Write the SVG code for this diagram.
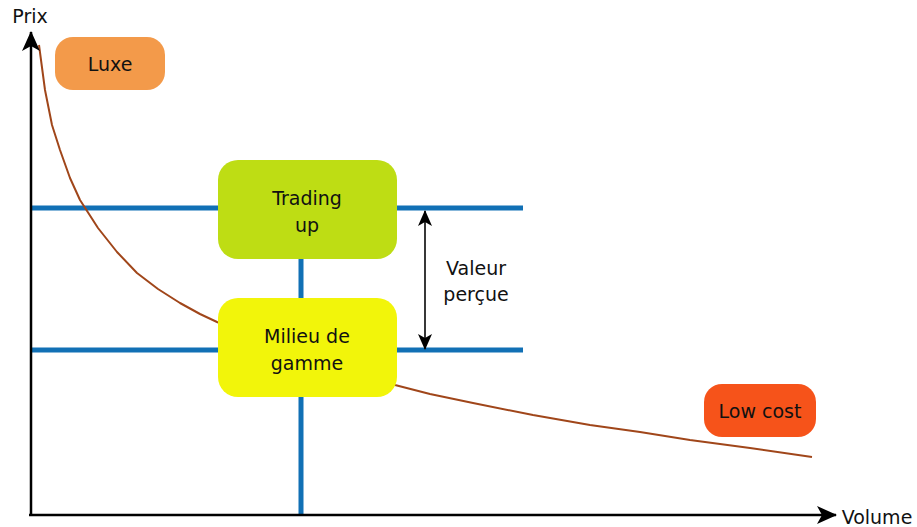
<svg xmlns="http://www.w3.org/2000/svg" width="917" height="527" viewBox="0 0 917 527">
  <style>
    .lbl { font-family: "DejaVu Sans", Verdana, sans-serif; font-size: 19px; fill: #111; text-anchor: middle; }
    .grid { stroke: #1170B5; stroke-width: 5; fill: none; }
    .axis { stroke: #000; stroke-width: 2.5; fill: none; }
    .curve { stroke: #A0461A; stroke-width: 2; fill: none; stroke-linejoin: round; }
  </style>
  <defs>
    <marker id="head" viewBox="0 0 20 18" refX="19" refY="9" markerWidth="20" markerHeight="18" markerUnits="userSpaceOnUse" orient="auto">
      <path d="M0,0 L20,9 L0,18 L5,9 Z" fill="#000"/>
    </marker>
    <marker id="tip" viewBox="0 0 16 14" refX="15" refY="7" markerWidth="16" markerHeight="14" markerUnits="userSpaceOnUse" orient="auto-start-reverse">
      <path d="M0,0 L16,7 L0,14 L4,7 Z" fill="#000"/>
    </marker>
  </defs>
  <rect width="917" height="527" fill="#fff"/>

  <g id="connectors">
    <!-- price levels and the mid-range stem -->
    <line class="grid" x1="31" y1="208" x2="523" y2="208"/>
    <line class="grid" x1="31" y1="350" x2="523" y2="350"/>
    <line class="grid" x1="301" y1="255" x2="301" y2="515"/>
    <!-- demand curve -->
    <polyline class="curve" points="39,45 45,90 52,125 60,150 70,178 80,200 98,228 117,252 137,273 158,289 180,303 200,314 217,322 300,355 395,385 430,394 473,403 533,415 590,425 640,432 690,440 750,448 812,457"/>
    <!-- axes -->
    <line class="axis" x1="31" y1="515" x2="31" y2="32" marker-end="url(#head)"/>
    <line class="axis" x1="29" y1="515" x2="836" y2="515" marker-end="url(#head)"/>
    <!-- perceived value span -->
    <line x1="425" y1="211" x2="425" y2="349" stroke="#222" stroke-width="1.8" marker-start="url(#tip)" marker-end="url(#tip)"/>
  </g>

  <g id="luxe">
    <rect x="55" y="37" width="110" height="53" rx="18" fill="#F39A4A"/>
    <text class="lbl" x="110" y="71">Luxe</text>
  </g>
  <g id="trading-up">
    <rect x="218" y="160" width="179" height="99" rx="20" fill="#BEDD14"/>
    <text class="lbl" x="307" y="205">Trading</text>
    <text class="lbl" x="307" y="232">up</text>
  </g>
  <g id="milieu">
    <rect x="218" y="298" width="179" height="99" rx="20" fill="#F2F50A"/>
    <text class="lbl" x="307" y="343">Milieu de</text>
    <text class="lbl" x="307" y="370">gamme</text>
  </g>
  <g id="low-cost">
    <rect x="704" y="384" width="112" height="53" rx="18" fill="#F6531A"/>
    <text class="lbl" x="760" y="418">Low cost</text>
  </g>

  <g id="labels">
    <text class="lbl" x="476" y="275">Valeur</text>
    <text class="lbl" x="476" y="301">perçue</text>
    <text class="lbl" x="30" y="23">Prix</text>
    <text class="lbl" x="877" y="524">Volume</text>
  </g>
</svg>
